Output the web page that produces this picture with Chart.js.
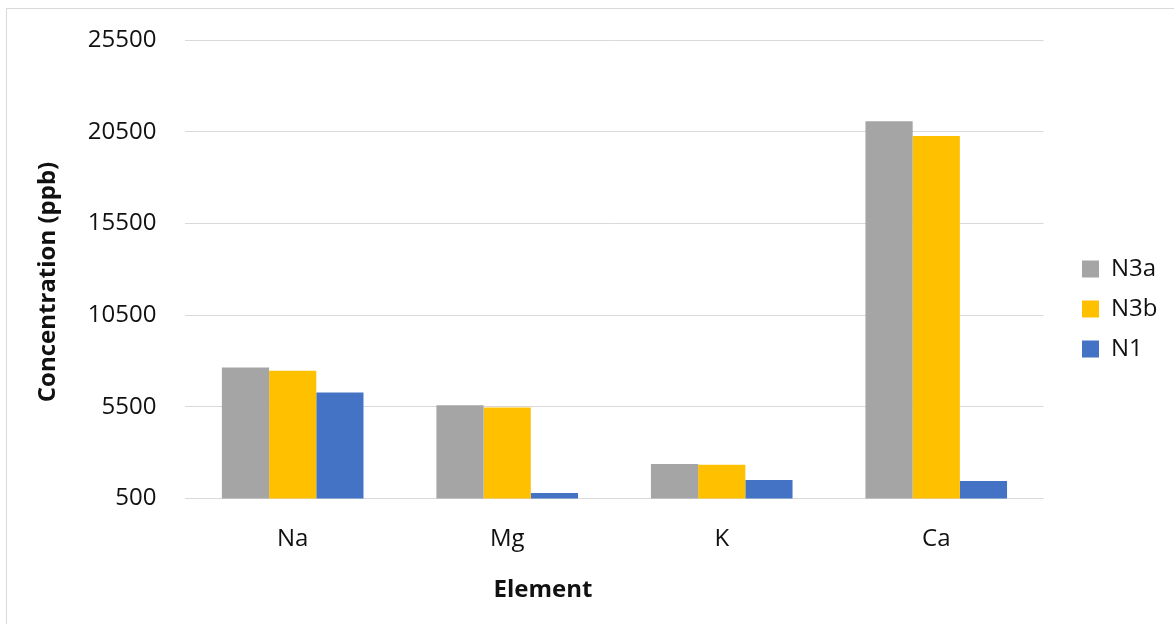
<!DOCTYPE html>
<html>
<head>
<meta charset="utf-8">
<script src="https://cdn.jsdelivr.net/npm/chart.js@4"></script>
<style>
  body { margin: 0; background: #fff; }
  #frame { position: absolute; left: 6px; top: 8px; width: 1200px; height: 640px; border: 1px solid #d9d9d9; }
  #wrap { position: absolute; left: 0; top: 0; width: 1174px; height: 624px; }
</style>
</head>
<body>
<div id="frame"></div>
<div id="wrap"><canvas id="elementChart" width="1174" height="624"></canvas></div>
<script>
const elements = ["Na", "Mg", "K", "Ca"]
const n3a = [7640, 5590, 2375, 21090]
const n3b = [7470, 5460, 2335, 20280]
const n1 = [6275, 790, 1500, 1445]

const font = "'Open Sans', sans-serif"
const textColor = "#111"

// nudge the legend so it sits where Excel put it
const legendShift = {
    id: 'legendShift',
    afterLayout(chart) {
        const lg = chart.legend
        const dx = 1066 - lg.left
        lg.left += dx
        lg.right += dx
        lg.top -= 5
        lg.bottom -= 5
    }
}

// Excel centres the axis titles on its own frame, not on the plot area,
// so the scale titles only reserve room and are drawn here instead
const axisTitles = {
    id: 'axisTitles',
    afterDraw(chart) {
        const c = chart.ctx
        c.save()
        c.fillStyle = textColor
        c.font = "bold 24px " + font
        c.textAlign = 'center'
        c.textBaseline = 'middle'
        c.fillText(chart.options.scales.x.title.text, 543, 590)
        c.translate(48, 282)
        c.rotate(-Math.PI / 2)
        c.fillText(chart.options.scales.y.title.text, 0, 0)
        c.restore()
    }
}

const graphConfig = {
    type: 'bar',
    data: {
        labels: elements,
        datasets: [
            { label: "N3a", data: n3a, backgroundColor: "#a5a5a5" },
            { label: "N3b", data: n3b, backgroundColor: "#ffc000" },
            { label: "N1", data: n1, backgroundColor: "#4472c4" },
        ],
    },
    options: {
        responsive: false,
        animation: false,
        categoryPercentage: 0.66,
        barPercentage: 1.0,
        layout: { padding: { top: 20, right: 29, bottom: 16, left: 0 } },
        scales: {
            x: {
                grid: { display: false, drawTicks: false },
                border: { display: false },
                ticks: { color: textColor, padding: 26, font: { family: font, size: 24 } },
                title: {
                    display: true,
                    text: "Element",
                    color: 'transparent',
                    padding: 0,
                    font: { family: font, size: 24, weight: 'bold' }
                }
            },
            y: {
                min: 500,
                max: 25500,
                ticks: {
                    stepSize: 5000,
                    color: textColor,
                    padding: 29,
                    font: { family: font, size: 24, lineHeight: 0.95 },
                    callback: v => String(v)
                },
                grid: { color: "#d9d9d9", lineWidth: 1, drawTicks: false },
                border: { display: false },
                title: {
                    display: true,
                    text: "Concentration (ppb)",
                    color: 'transparent',
                    padding: { top: 30, bottom: 0 },
                    font: { family: font, size: 24, weight: 'bold' }
                }
            },
        },
        plugins: {
            legend: {
                position: 'right',
                labels: {
                    boxWidth: 17,
                    boxHeight: 17,
                    padding: 16,
                    color: textColor,
                    font: { family: font, size: 24 }
                }
            },
            tooltip: { enabled: false }
        },
    },
    plugins: [legendShift, axisTitles]
}

const ctx = document.getElementById("elementChart")
const myChart = new Chart(ctx, graphConfig)
</script>
</body>
</html>
